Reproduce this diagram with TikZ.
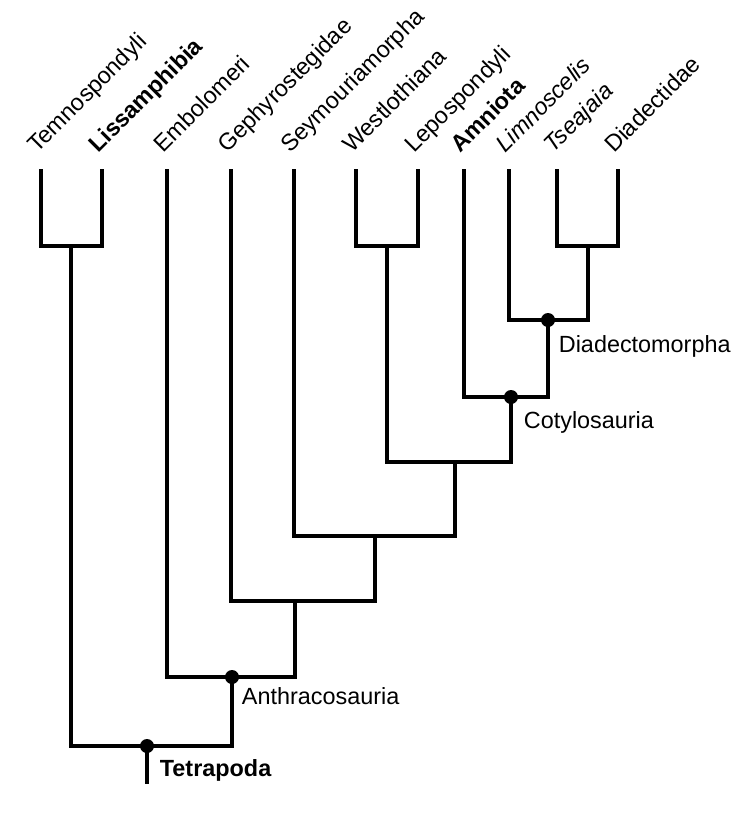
\documentclass[tikz,border=0pt]{standalone}
\usepackage{fontspec}
\setmainfont{Liberation Sans}
\usepackage{tikz}
\usetikzlibrary{positioning}

\begin{document}
\begin{tikzpicture}[
  x=0.5pt, y=-0.5pt,
  line width=1.9pt,
  taxon/.style={rotate=45, anchor=base west, inner sep=0pt},
  clade/.style={anchor=north west, inner sep=0pt},
  dot/.style={circle, fill, inner sep=0pt, minimum size=7pt},
  font=\fontsize{11.7}{14}\selectfont]
  \useasboundingbox (0,0) rectangle (743,814);
  % leaf tips
  \coordinate (temno) at (41,169);
  \coordinate (liss)  at (102,169);
  \coordinate (embo)  at (167,169);
  \coordinate (geph)  at (231,169);
  \coordinate (seym)  at (294,169);
  \coordinate (west)  at (356,169);
  \coordinate (lepo)  at (418,169);
  \coordinate (amnio) at (464,169);
  \coordinate (limno) at (509,169);
  \coordinate (tse)   at (557,169);
  \coordinate (dia)   at (618,169);
  % inner nodes
  \coordinate (tl)       at (71,246);
  \coordinate (wl)       at (387,246);
  \coordinate (td)       at (588,246);
  \coordinate (diadecto) at (548,320);
  \coordinate (cotylo)   at (511,397);
  \coordinate (n1)       at (455,462);
  \coordinate (n2)       at (375,536);
  \coordinate (n3)       at (295,601);
  \coordinate (anthraco) at (232,677);
  \coordinate (tetra)    at (147,746);
  \coordinate (root)     at (147,784);
  % branches
  \draw (temno) |- (tl) -| (liss);
  \draw (west) |- (wl) -| (lepo);
  \draw (tse) |- (td) -| (dia);
  \draw (limno) |- (diadecto) -| (td);
  \draw (amnio) |- (cotylo) -| (diadecto);
  \draw (wl) |- (n1) -| (cotylo);
  \draw (seym) |- (n2) -| (n1);
  \draw (geph) |- (n3) -| (n2);
  \draw (embo) |- (anthraco) -| (n3);
  \draw (tl) |- (tetra) -| (anthraco);
  \draw (tetra) -- (root);
  % named clades
  \node[dot] (diadecto-dot) at (diadecto) {};
  \node[dot] (cotylo-dot)   at (cotylo) {};
  \node[dot] (anthraco-dot) at (anthraco) {};
  \node[dot] (tetra-dot)    at (tetra) {};
  \node[clade] (diadecto-lbl) at ([shift={(9,14)}]diadecto) {Diadectomorpha};
  \node[clade] (cotylo-lbl)   at ([shift={(11,13)}]cotylo) {Cotylosauria};
  \node[clade] (anthraco-lbl) at ([shift={(8,9)}]anthraco) {Anthracosauria};
  \node[clade] (tetra-lbl)    at ([shift={(11,12)}]tetra) {\textbf{Tetrapoda}};
  % leaf labels
  \node[taxon] (temno-lbl) at ([shift={(-5,-14)}]temno) {Temnospondyli};
  \node[taxon] (liss-lbl)  at ([shift={(-5,-14)}]liss) {\textbf{Lissamphibia}};
  \node[taxon] (embo-lbl)  at ([shift={(-5,-14)}]embo) {Embolomeri};
  \node[taxon] (geph-lbl)  at ([shift={(-5,-14)}]geph) {Gephyrostegidae};
  \node[taxon] (seym-lbl)  at ([shift={(-5,-14)}]seym) {Seymouriamorpha};
  \node[taxon] (west-lbl)  at ([shift={(-5,-14)}]west) {Westlothiana};
  \node[taxon] (lepo-lbl)  at ([shift={(-5,-14)}]lepo) {Lepospondyli};
  \node[taxon] (amnio-lbl) at ([shift={(-5,-14)}]amnio) {\textbf{Amniota}};
  \node[taxon] (limno-lbl) at ([shift={(-5,-14)}]limno) {\textit{Limnoscelis}};
  \node[taxon] (tse-lbl)   at ([shift={(-5,-14)}]tse) {\textit{Tseajaia}};
  \node[taxon] (dia-lbl)   at ([shift={(-5,-14)}]dia) {Diadectidae};
\end{tikzpicture}
\end{document}
